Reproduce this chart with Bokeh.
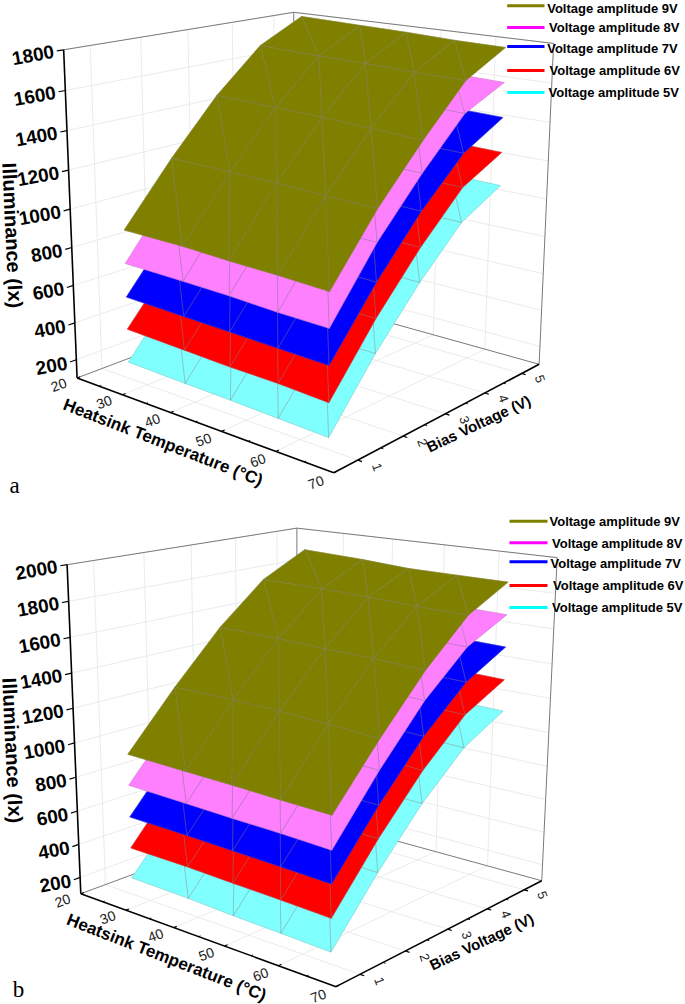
import numpy as np
from bokeh.plotting import figure
from bokeh.models import Range1d
from bokeh.core.properties import value
from bokeh.embed import file_html
from bokeh.resources import INLINE

temps = [26, 38, 47, 56, 65]
bias = [1, 2, 3, 4, 5]
series_names = ["Voltage amplitude 5V", "Voltage amplitude 6V", "Voltage amplitude 7V",
                "Voltage amplitude 8V", "Voltage amplitude 9V"]
surface_colors = ["#80ffff", "#ff0000", "#0000ff", "#ff80ff", "#808000"]
legend_colors = ["#00ffff", "#ff0000", "#0000ff", "#ff00ff", "#808000"]

# rows: bias 1..5, columns: temps
a_5v = [[188,180,175,167,160],[490,483,477,470,468],[760,752,745,738,731],[985,977,970,962,956],[1108,1098,1090,1082,1076]]
a_6v = [[367,355,346,343,331],[665,658,652,646,641],[938,930,922,914,907],[1165,1157,1149,1141,1134],[1282,1272,1264,1256,1249]]
a_7v = [[539,530,524,517,511],[845,838,832,825,819],[1120,1110,1102,1094,1086],[1340,1330,1322,1314,1306],[1464,1454,1446,1437,1429]]
a_8v = [[717,711,705,693,688],[1036,1028,1022,1015,1010],[1305,1295,1288,1280,1271],[1540,1530,1520,1512,1504],[1643,1632,1624,1615,1607]]
a_9v = [[892,889,878,872,861],[1198,1192,1187,1178,1170],[1474,1464,1456,1444,1429],[1695,1684,1679,1669,1665],[1814,1804,1798,1787,1783]]

b_5v = [[199,192,181,174,166],[515,508,502,495,488],[800,793,786,779,772],[1030,1022,1015,1007,1000],[1162,1154,1146,1139,1132]]
b_6v = [[380,377,368,361,351],[705,697,690,682,675],[990,982,974,966,958],[1218,1210,1202,1194,1187],[1346,1338,1330,1322,1314]]
b_7v = [[566,560,552,545,536],[888,880,873,865,858],[1178,1170,1162,1154,1146],[1402,1394,1386,1378,1370],[1534,1526,1518,1510,1502]]
b_8v = [[754,743,734,728,717],[1078,1070,1062,1054,1046],[1372,1364,1356,1348,1340],[1597,1589,1581,1573,1565],[1717,1709,1701,1693,1685]]
b_9v = [[935,925,918,908,901],[1251,1251,1244,1230,1214],[1540,1533,1523,1517,1502],[1772,1767,1758,1746,1738],[1907,1891,1873,1870,1868]]

t_ticks = [20, 30, 40, 50, 60, 70]
t_minor = [25, 35, 45, 55, 65]
v_ticks = [1, 2, 3, 4, 5]
v_minor = [1.5, 2.5, 3.5, 4.5]
z_ticks_a = [200, 400, 600, 800, 1000, 1200, 1400, 1600, 1800]
z_ticks_b = [200, 400, 600, 800, 1000, 1200, 1400, 1600, 1800, 2000]
T_RANGE = (20, 70)
V_RANGE = (0.5, 5.5)


def fit_projection(c):
    cube = [(0,0,0),(0,0,1),(1,0,0),(1,1,0),(1,1,1),(0,1,1),(0,1,0)]
    A = []
    for (u, v, w), (x, y) in zip(cube, c):
        X = [u, v, w, 1]
        A.append(X + [0]*4 + [-x*k for k in X])
        A.append([0]*4 + X + [-y*k for k in X])
    return np.linalg.svd(np.array(A, float))[2][-1].reshape(3, 4)


p = figure(width=685, height=1004, x_range=Range1d(0, 685), y_range=Range1d(1004, 0),
           toolbar_location=None, output_backend="svg", min_border=0, margin=0,
           outline_line_color=None, background_fill_color="white")
p.axis.visible = False
p.grid.visible = False

ARIAL = value("Liberation Sans")
SERIF = value("Liberation Serif")


def label(x, y, s, size, angle=0.0, font=ARIAL, style="normal", color="#000000", align="center", base="middle"):
    p.text([x], [y], text=[s], text_font=font, text_font_size=f"{size}px", text_font_style=style,
           text_color=color, angle=[np.radians(angle)], text_align=align, text_baseline=base)


def panel(cfg):
    P = fit_projection(cfg["corners"])
    zlo, zhi = cfg["zr"]

    def proj(T, V, Z):
        X = np.array([(T-T_RANGE[0])/(T_RANGE[1]-T_RANGE[0]), (V-V_RANGE[0])/(V_RANGE[1]-V_RANGE[0]),
                      (Z-zlo)/(zhi-zlo), 1.0])
        h = P @ X
        return h[0]/h[2], h[1]/h[2]

    def seg(a, b, color, width):
        xa, ya = proj(*a); xb, yb = proj(*b)
        p.line([xa, xb], [ya, yb], line_color=color, line_width=width)

    tl, th = T_RANGE; vl, vh = V_RANGE
    grid = "#e6e6e6"; edge = "#7a7a7a"
    for T in t_ticks[1:-1]:
        seg((T, vl, zlo), (T, vh, zlo), grid, 0.8)
        seg((T, vh, zlo), (T, vh, zhi), grid, 0.8)
    for V in v_ticks:
        seg((tl, V, zlo), (th, V, zlo), grid, 0.8)
        seg((tl, V, zlo), (tl, V, zhi), grid, 0.8)
    for Z in cfg["zt"]:
        seg((tl, vl, Z), (tl, vh, Z), grid, 0.8)
        seg((tl, vh, Z), (th, vh, Z), grid, 0.8)
    seg((tl, vl, zhi), (tl, vh, zhi), edge, 1.0)
    seg((tl, vh, zhi), (th, vh, zhi), edge, 1.0)
    seg((tl, vh, zlo), (tl, vh, zhi), edge, 1.0)
    seg((th, vh, zlo), (th, vh, zhi), edge, 1.0)
    seg((tl, vl, zlo), (tl, vh, zlo), edge, 1.0)
    seg((tl, vh, zlo), (th, vh, zlo), edge, 1.0)

    # surfaces, low to high, each back to front, split into triangles like the mesh
    for data, col in zip(cfg["series"], surface_colors):
        xs, ys = [], []
        for j in range(len(bias)-2, -1, -1):
            for i in range(len(temps)-1):
                n00 = proj(temps[i], bias[j], data[j][i])
                n10 = proj(temps[i+1], bias[j], data[j][i+1])
                n01 = proj(temps[i], bias[j+1], data[j+1][i])
                n11 = proj(temps[i+1], bias[j+1], data[j+1][i+1])
                for tri in ((n01, n11, n10), (n01, n10, n00)):
                    xs.append([q[0] for q in tri]); ys.append([q[1] for q in tri])
        p.patches(xs, ys, fill_color=col, line_color=col, line_width=0.6)
        p.patches(xs, ys, fill_color=None, line_color="#808080", line_alpha=0.42, line_width=0.6)

    # axes
    seg((tl, vl, zlo), (tl, vl, zhi), "#000000", 1.6)
    seg((tl, vl, zlo), (th, vl, zlo), "#000000", 1.6)
    seg((th, vl, zlo), (th, vh, zlo), "#000000", 1.6)
    dv = vh - vl; dt = th - tl
    for Z in cfg["zt"]:
        seg((tl, vl, Z), (tl, vl-0.025*dv, Z), "#000000", 1.2)
        x, y = proj(tl, vl-0.036*dv, Z)
        label(x, y, f"{Z}", 19, angle=10, style="bold", align="right")
    for T in t_ticks:
        seg((T, vl, zlo), (T, vl+0.012*dv, zlo), "#000000", 1.2)
        x, y = proj(T, vl-0.072*dv, zlo)
        label(x, y, f"{T}", 14, angle=20, color="#222222")
    for T in t_minor:
        seg((T, vl, zlo), (T, vl+0.007*dv, zlo), "#000000", 1.0)
    for V in v_ticks:
        seg((th, V, zlo), (th+0.014*dt, V, zlo), "#000000", 1.2)
        x, y = proj(th+0.065*dt, V, zlo)
        label(x, y, f"{V}", 13, angle=-70, color="#222222")
    for V in v_minor:
        seg((th, V, zlo), (th+0.008*dt, V, zlo), "#000000", 1.0)

    tx = cfg["titles"]
    label(*tx["z"], "Illuminance (lx)", 20, angle=-87.5, style="bold")
    label(*tx["t"], "Heatsink Temperature (\u00b0C)", 17, angle=-21.3, style="bold")
    label(*tx["v"], "Bias Voltage (V)", 15, angle=25.3, style="bold")
    label(*cfg["tag"][:2], cfg["tag"][2], 23, font=SERIF)

    lx = cfg["leg_x"]
    for s, c, ly, ty, tx0 in zip(series_names, legend_colors, cfg["leg_y"], cfg["leg_ty"], cfg["leg_tx"]):
        p.line(lx, [ly, ly], line_color=c, line_width=3)
        label(tx0, ty, s, 13, style="bold", align="left")


panel(dict(
    corners=[(77,378),(63,49),(333,472),(539,364),(553,43),(293.5,12),(293,295)],
    zr=(100, 1800), zt=z_ticks_a,
    series=[a_5v, a_6v, a_7v, a_8v, a_9v],
    titles=dict(z=(12,235), t=(162.5,442), v=(478,423)),
    tag=(14,485,"a"),
    leg_y=[92,70,46,27,5.3], leg_x=[506.7,544],
    leg_ty=[92,69.5,48,27,7.5], leg_tx=[548,549,546.7,548.5,546.7],
))
panel(dict(
    corners=[(80.7,892.7),(66.7,564),(335,987),(541.7,879),(556.7,557.7),(296.3,527.3),(296,814)],
    zr=(100, 2000), zt=z_ticks_b,
    series=[b_5v, b_6v, b_7v, b_8v, b_9v],
    titles=dict(z=(12,750), t=(166,957), v=(481,941)),
    tag=(18,989,"b"),
    leg_y=[607,585,561.3,542.3,520.7], leg_x=[509,547],
    leg_ty=[607,585,563,542.5,521], leg_tx=[551.5,552.5,550,551.5,549],
))

open("out.html", "w").write(file_html(p, INLINE))
